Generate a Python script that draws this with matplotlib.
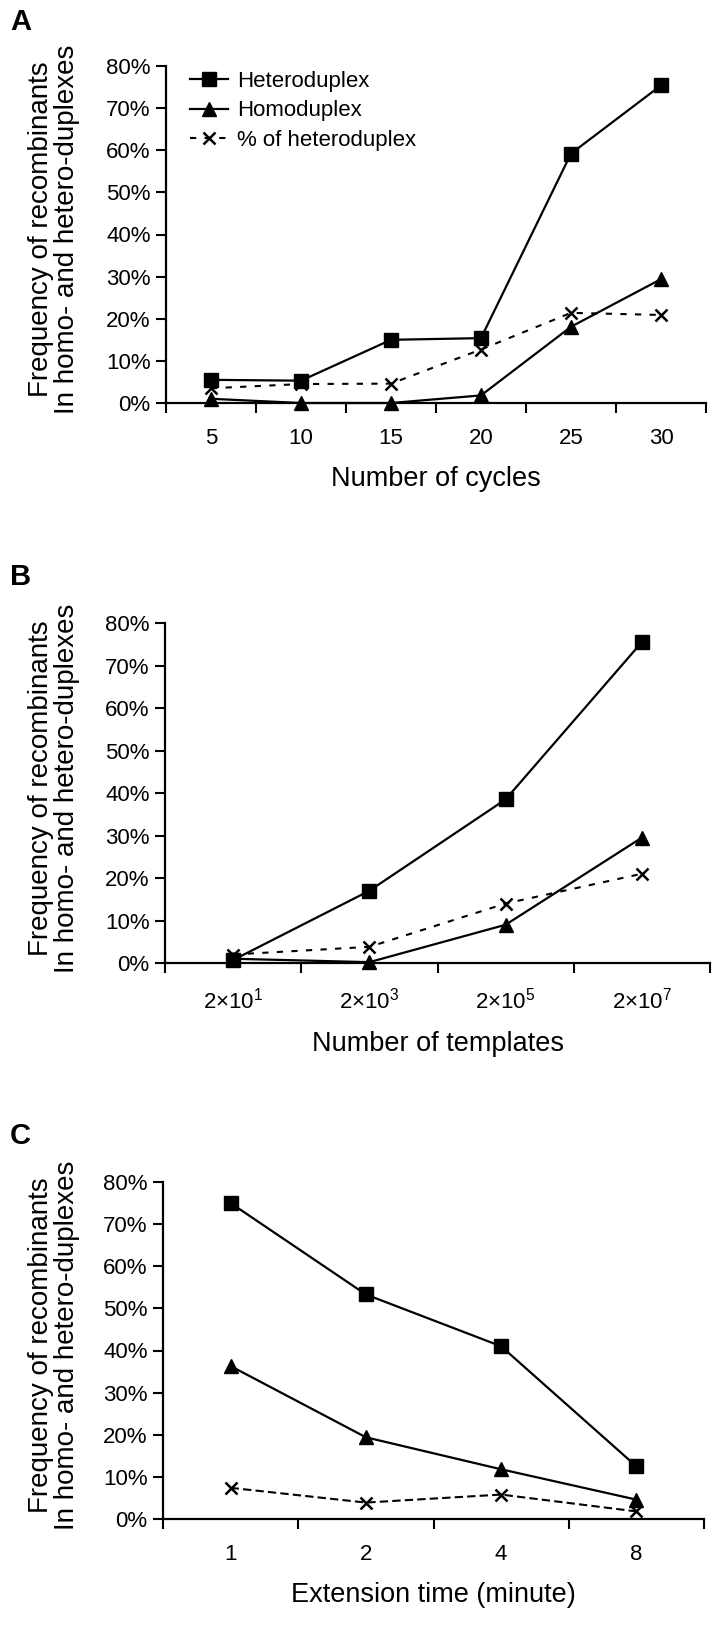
import matplotlib
matplotlib.use('Agg')
from matplotlib import pyplot as plt
import numpy as np

plt.rcParams['font.family'] = ['Liberation Sans', 'DejaVu Sans']
plt.rcParams['mathtext.fontset'] = 'custom'
plt.rcParams['mathtext.rm'] = 'Liberation Sans'
plt.rcParams['mathtext.default'] = 'regular'

# Panel A: number of PCR cycles
cycles = ['5', '10', '15', '20', '25', '30']
cycles_hetero = [5.5, 5.3, 15.0, 15.4, 59.2, 75.4]
cycles_homo = [1.0, 0.0, 0.0, 1.8, 18.1, 29.4]
cycles_pct = [3.5, 4.5, 4.6, 12.7, 21.4, 20.9]

# Panel B: number of templates
templates = ['2×10$^{1}$', '2×10$^{3}$', '2×10$^{5}$', '2×10$^{7}$']
templates_hetero = [0.7, 17.0, 38.5, 75.5]
templates_homo = [1.0, 0.2, 9.0, 29.5]
templates_pct = [2.0, 3.8, 14.0, 21.0]

# Panel C: extension time
minutes = ['1', '2', '4', '8']
minutes_hetero = [75.0, 53.3, 41.0, 12.5]
minutes_homo = [36.3, 19.4, 11.8, 4.6]
minutes_pct = [7.4, 3.9, 5.8, 1.8]

W, H = 714, 1625
fig = plt.figure(figsize=(W / 100, H / 100), dpi=100)


def px_axes(left, right, top, bottom):
    ax = fig.add_axes([left / W, 1 - bottom / H,
                       (right - left) / W, (bottom - top) / H])
    ax.px = (left, right, top, bottom)
    return ax


def panel(ax, labels, hetero, homo, pct, dash, xlabel):
    x = np.arange(len(labels))
    ax.plot(x, hetero, color='black', lw=1.6, marker='s', ms=9.5,
            label='Heteroduplex')
    ax.plot(x, homo, color='black', lw=1.6, marker='^', ms=10,
            label='Homoduplex')
    ax.plot(x, pct, color='black', lw=1.5, ls=dash, marker='x', ms=8,
            mew=1.8, label='% of heteroduplex')

    ax.set_xlim(-0.5, len(labels) - 0.5)
    ax.set_ylim(0, 80)
    ax.set_yticks(np.arange(0, 81, 10))
    ax.set_yticklabels(['%d%%' % v for v in range(0, 81, 10)])
    ax.set_xticks(np.arange(len(labels) + 1) - 0.5)
    ax.set_xticklabels([])
    ax.set_xticks(x, minor=True)
    ax.set_xticklabels(labels, minor=True)
    ax.tick_params(axis='x', which='major', direction='out', length=7,
                   width=1.5)
    ax.tick_params(axis='x', which='minor', length=0, pad=18,
                   labelsize=16)
    ax.tick_params(axis='y', direction='out', length=7, width=1.5,
                   labelsize=16, pad=4)
    for side in ('top', 'right'):
        ax.spines[side].set_visible(False)
    for side in ('left', 'bottom'):
        ax.spines[side].set_linewidth(1.6)
    ax.set_xlabel(xlabel, fontsize=19.5, labelpad=12)
    ax.set_ylabel('Frequency of recombinants\nIn homo- and hetero-duplexes',
                  fontsize=20, linespacing=1.0)
    left, right = ax.px[0], ax.px[1]
    ax.yaxis.set_label_coords((80 - left) / (right - left), 0.515)
    for ln in ax.lines:
        ln.set_clip_on(False)


ax_a = px_axes(166, 706, 66, 403)
panel(ax_a, cycles, cycles_hetero, cycles_homo, cycles_pct,
      (0, (3, 4)), 'Number of cycles')
ax_a.legend(loc='upper left', bbox_to_anchor=(0.045, 0.985), frameon=False,
            fontsize=16, handlelength=1.7, handletextpad=0.4,
            labelspacing=0.38, borderaxespad=0, borderpad=0)

ax_b = px_axes(165, 710, 623, 963)
panel(ax_b, templates, templates_hetero, templates_homo, templates_pct,
      (0, (3, 4)), 'Number of templates')

ax_c = px_axes(163, 704, 1182, 1519)
panel(ax_c, minutes, minutes_hetero, minutes_homo, minutes_pct,
      (0, (4, 2)), 'Extension time (minute)')

for letter, y in (('A', 22), ('B', 577), ('C', 1136)):
    fig.text(10 / W, 1 - y / H, letter, fontsize=21, fontweight='bold',
             va='center', ha='left')

fig.savefig('out.png', dpi=100)
